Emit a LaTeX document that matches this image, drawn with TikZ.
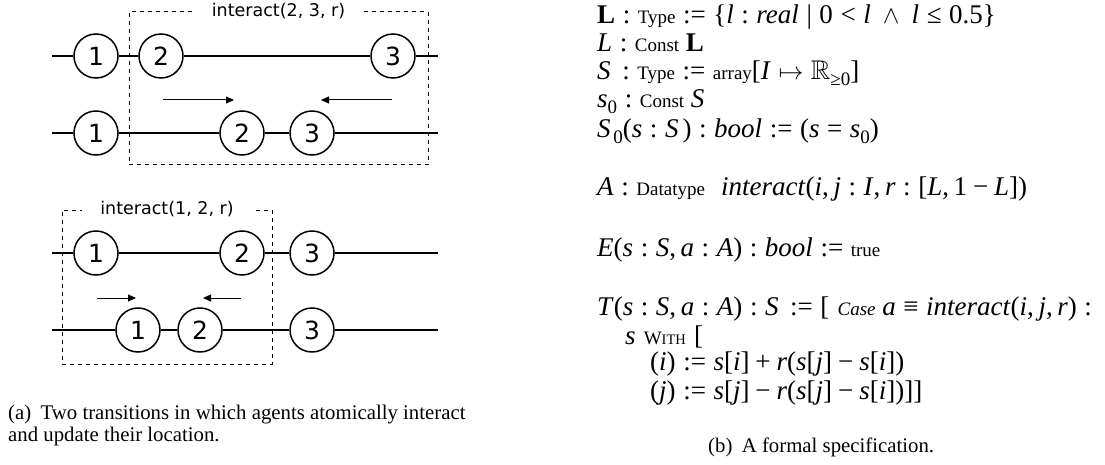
\documentclass[tikz,border=0pt]{standalone}
\usepackage{fontspec}
\usepackage{amssymb}
\setmainfont{Liberation Serif}
\newfontfamily\dv{DejaVu Sans}
\usetikzlibrary{arrows.meta}
\newcommand\mi[1]{\textit{#1}}
\newcommand\rl[1]{\hspace{0.28em}#1\hspace{0.28em}}
\newcommand\bn[1]{\hspace{0.22em}#1\hspace{0.22em}}
\newcommand\cm{,\hspace{0.17em}}
\newcommand\kw[1]{{\fontsize{19}{20}\selectfont #1}}
\newcommand\sub[1]{\raisebox{-0.22em}{\fontsize{19}{20}\selectfont #1}}
\begin{document}
\begin{tikzpicture}[x=1pt,y=-1pt,
  agent/.style={circle,draw,line width=1.5pt,minimum size=44pt,inner sep=0pt,font=\dv\fontsize{25}{25}\selectfont},
  track/.style={line width=1.5pt},
  tbox/.style={draw,line width=1pt,dash pattern=on 4pt off 4pt,inner sep=0pt},
  boxlabel/.style={fill=white,inner xsep=18pt,inner ysep=1pt,font=\dv\fontsize{17.5}{18}\selectfont},
  move/.style={line width=1pt,-{Triangle[length=8pt,width=7pt]}},
  spec/.style={anchor=base west,inner sep=0pt,font=\fontsize{27}{29}\selectfont},
  captext/.style={inner sep=0pt,font=\fontsize{20.8}{22}\selectfont}]
\useasboundingbox (0,0) rectangle (1105,465);
% ---------- panel 1 ----------
\node[tbox,minimum width=299pt,minimum height=153pt] (b1) at (278.5,88.5) {};
\node[boxlabel] (l1) at (b1.north) {interact(2, 3, r)};
\coordinate (p1s) at (52,56);  \coordinate (p1e) at (438,56);
\node[agent] (p1a1) at (96,56) {1};
\node[agent] (p1a2) at (161,56) {2};
\node[agent] (p1a3) at (393,56) {3};
\draw[track] (p1s) -- (p1a1) -- (p1a2) -- (p1a3) -- (p1e);
\coordinate (q1s) at (52,133);  \coordinate (q1e) at (438,133);
\node[agent] (q1a1) at (96,133) {1};
\node[agent] (q1a2) at (242,133) {2};
\node[agent] (q1a3) at (312,133) {3};
\draw[track] (q1s) -- (q1a1) -- (q1a2) -- (q1a3) -- (q1e);
\coordinate (m1a) at (163,100); \coordinate (m1b) at (234,100);
\coordinate (m1c) at (392,100); \coordinate (m1d) at (321,100);
\draw[move] (m1a) -- (m1b);
\draw[move] (m1c) -- (m1d);
% ---------- panel 2 ----------
\node[tbox,minimum width=210pt,minimum height=154pt] (b2) at (167,287) {};
\node[boxlabel] (l2) at (b2.north) {interact(1, 2, r)};
\coordinate (p2s) at (52,253);  \coordinate (p2e) at (438,253);
\node[agent] (p2a1) at (96,253) {1};
\node[agent] (p2a2) at (242,253) {2};
\node[agent] (p2a3) at (312,253) {3};
\draw[track] (p2s) -- (p2a1) -- (p2a2) -- (p2a3) -- (p2e);
\coordinate (q2s) at (52,330);  \coordinate (q2e) at (438,330);
\node[agent] (q2a1) at (138,330) {1};
\node[agent] (q2a2) at (200,330) {2};
\node[agent] (q2a3) at (312,330) {3};
\draw[track] (q2s) -- (q2a1) -- (q2a2) -- (q2a3) -- (q2e);
\coordinate (m2a) at (97,298); \coordinate (m2b) at (136,298);
\coordinate (m2c) at (241,298); \coordinate (m2d) at (203,298);
\draw[move] (m2a) -- (m2b);
\draw[move] (m2c) -- (m2d);
% ---------- caption (a) ----------
\node[captext,anchor=north west,align=left] (capa) at (8,405)
  {(a)\hspace{0.45em}Two transitions in which agents atomically interact\\and update their location.};
% ---------- specification ----------
\node[spec] (s1) at (597,24) {{\bfseries L}\rl{:}\kw{Type}\rl{:=}\{\mi{l}\rl{:}\mi{real}\rl{|}0\rl{<}\mi{l}\hspace{0.45em}$\wedge$\hspace{0.45em}\mi{l}\rl{≤}0.5\}};
\node[spec] (s2) at (597,52) {\mi{L}\rl{:}\kw{Const}\hspace{0.25em}{\bfseries L}};
\node[spec] (s3) at (597,80) {\mi{S}\hspace{0.15em}\rl{:}\kw{Type}\rl{:=}\kw{array}[\mi{I}\rl{$\mapsto$}$\mathbb{R}$\sub{≥0}]};
\node[spec] (s4) at (597,108) {\mi{s}\sub{0}\rl{:}\kw{Const}\hspace{0.25em}\mi{S}};
\node[spec] (s5) at (597,138) {\mi{S}\hspace{0.1em}\sub{0}(\mi{s}\rl{:}\mi{S}\hspace{0.15em})\rl{:}\mi{bool}\rl{:=}(\mi{s}\rl{=}\mi{s}\sub{0})};
\node[spec] (s6) at (597,196) {\mi{A}\rl{:}\kw{Datatype}\hspace{0.6em}\mi{interact}(\mi{i}\cm\mi{j}\rl{:}\mi{I}\cm\mi{r}\rl{:}[\mi{L}\cm 1\bn{−}\mi{L}])};
\node[spec] (s7) at (597,256) {\mi{E}(\mi{s}\rl{:}\mi{S}\cm\mi{a}\rl{:}\mi{A})\rl{:}\mi{bool}\rl{:=}\kw{true}};
\node[spec] (s8) at (597,315) {\mi{T}(\mi{s}\rl{:}\mi{S}\cm\mi{a}\rl{:}\mi{A})\rl{:}\mi{S}\hspace{0.15em}\rl{:=}[\hspace{0.3em}\kw{\itshape Case}\hspace{0.25em}\mi{a}\rl{≡}\mi{interact}(\mi{i}\cm\mi{j}\cm\mi{r})\rl{:}};
\node[spec] (s9) at (625,344) {\mi{s}\hspace{0.3em}{\fontsize{19}{20}\selectfont W}{\fontsize{14.5}{15}\selectfont ITH}\hspace{0.3em}[};
\node[spec] (s10) at (650,370) {(\mi{i})\rl{:=}\mi{s}[\mi{i}]\bn{+}\mi{r}(\mi{s}[\mi{j}]\bn{−}\mi{s}[\mi{i}])};
\node[spec] (s11) at (650,399) {(\mi{j})\rl{:=}\mi{s}[\mi{j}]\bn{−}\mi{r}(\mi{s}[\mi{j}]\bn{−}\mi{s}[\mi{i}])]]};
% ---------- caption (b) ----------
\node[captext,anchor=base west] (capb) at (708,452) {(b)\hspace{0.45em}A formal specification.};
\end{tikzpicture}
\end{document}
